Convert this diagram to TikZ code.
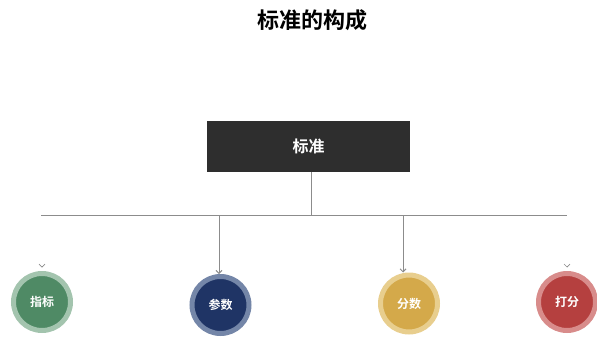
\documentclass[tikz,border=0pt]{standalone}
\usepackage{fontspec}
\setmainfont{Noto Sans CJK SC}
\newfontfamily\cjkb{Noto Sans CJK SC Bold}
\usetikzlibrary{arrows.meta,calc}
\definecolor{boxgray}{HTML}{2E2E2E}
\definecolor{linegray}{HTML}{8C8C8C}
\definecolor{gin}{HTML}{4F8A65}\definecolor{gring}{HTML}{A3C4AE}
\definecolor{nin}{HTML}{1F3465}\definecolor{nring}{HTML}{7486A8}
\definecolor{yin}{HTML}{D4A94A}\definecolor{yring}{HTML}{E8CE8E}
\definecolor{rin}{HTML}{B5403F}\definecolor{rring}{HTML}{D88C8B}
\tikzset{
  ball/.style n args={2}{circle,minimum size=57pt,inner sep=0pt,fill=#1,draw=#2,line width=5pt,
     text=white,font=\cjkb\fontsize{12}{13}\selectfont},
  conn/.style={draw=linegray,line width=1pt},
  arr/.style={conn,-{Straight Barb[length=3pt,width=6pt]}},
}
\begin{document}
\begin{tikzpicture}[x=1pt,y=-1pt]
\useasboundingbox (0,0) rectangle (597,340);
\node[font=\cjkb\fontsize{22}{24}\selectfont] (title) at (312,20) {标准的构成};
\node[fill=boxgray,minimum width=203pt,minimum height=51pt,inner sep=0pt,text=white,
  font=\cjkb\fontsize{16}{18}\selectfont] (std) at (308.5,146.5) {标准};
\coordinate (bl) at (41,215);
\coordinate (br) at (567,215);
\coordinate (bm) at (311,215);
\coordinate (b2) at (219,215);
\coordinate (b3) at (403,215);
\node[ball={gin}{gring}] (c1) at (42,302) {指标};
\node[ball={nin}{nring}] (c2) at (220.5,305) {参数};
\node[ball={yin}{yring}] (c3) at (409,303.5) {分数};
\node[ball={rin}{rring}] (c4) at (567,302) {打分};
\draw[conn] (std.south -| bm) -- (bm);
\draw[conn] (bl) -- (br);
\draw[arr] (b2) -- (b2 |- c2.north);
\draw[arr] (b3) -- (b3 |- c3.north);
\coordinate (t1) at ($(c1.north)+(0,-5)$);
\coordinate (t4) at ($(c4.north)+(0,-5)$);
\draw[arr,line width=0.6pt] (t1) -- ++(0,1.5);
\draw[arr,line width=0.6pt] (t4) -- ++(0,1.5);
\end{tikzpicture}
\end{document}
